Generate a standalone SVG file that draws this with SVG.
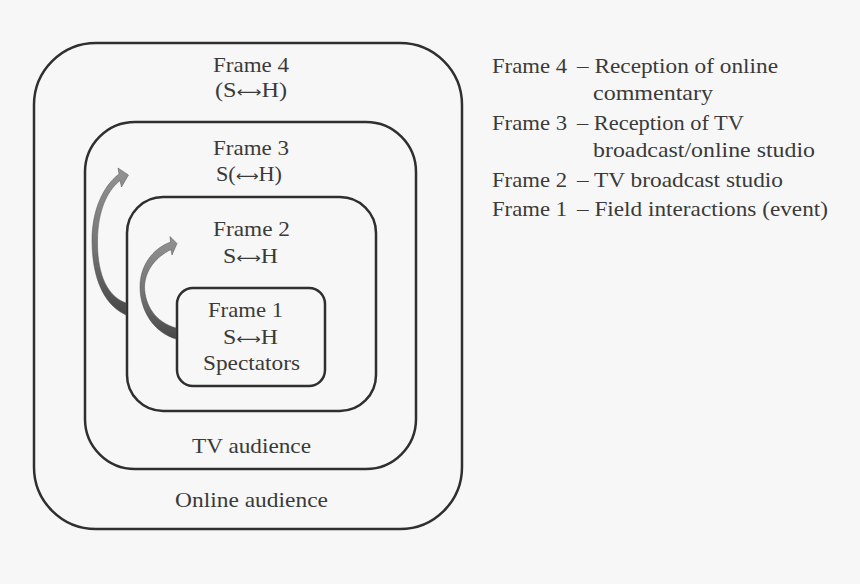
<svg xmlns="http://www.w3.org/2000/svg" width="860" height="584" viewBox="0 0 860 584">
  <style>
    .box { fill: none; stroke: #2f2f2f; stroke-width: 2.5; }
    .t { font-family: "Liberation Serif", "Times New Roman", serif; font-size: 21px; fill: #3a3a3a; }
    .c { text-anchor: middle; }
    .ar { font-family: "DejaVu Sans", sans-serif; font-size: 15px; }
    .arrow { fill: url(#ag); stroke: #505050; stroke-width: 0.5; }
  </style>
  <defs>
    <linearGradient id="ag" x1="0" y1="1" x2="0" y2="0">
      <stop offset="0" stop-color="#474747"/>
      <stop offset="0.45" stop-color="#747474"/>
      <stop offset="1" stop-color="#939393"/>
    </linearGradient>
  </defs>
  <rect width="860" height="584" fill="#f7f7f7"/>

  <g id="frame4">
    <rect class="box" x="34" y="43" width="428" height="486" rx="62" ry="62"/>
    <text class="t c" x="251" y="72" textLength="76" lengthAdjust="spacingAndGlyphs">Frame 4</text>
    <text class="t c" x="251" y="97" textLength="72" lengthAdjust="spacingAndGlyphs">(S<tspan class="ar">⟷</tspan>H)</text>
    <text class="t c" x="251.5" y="507" textLength="153" lengthAdjust="spacingAndGlyphs">Online audience</text>
  </g>

  <g id="frame3">
    <rect class="box" x="85" y="122" width="331" height="347" rx="50" ry="50"/>
    <text class="t c" x="251" y="155" textLength="76" lengthAdjust="spacingAndGlyphs">Frame 3</text>
    <text class="t c" x="249" y="181" textLength="66" lengthAdjust="spacingAndGlyphs">S(<tspan class="ar">⟷</tspan>H)</text>
    <text class="t c" x="251.5" y="453" textLength="119" lengthAdjust="spacingAndGlyphs">TV audience</text>
  </g>

  <g id="frame2">
    <rect class="box" x="127" y="197" width="249" height="214" rx="36" ry="36"/>
    <text class="t c" x="251.5" y="236" textLength="77" lengthAdjust="spacingAndGlyphs">Frame 2</text>
    <text class="t c" x="250.5" y="263" textLength="55" lengthAdjust="spacingAndGlyphs">S<tspan class="ar">⟷</tspan>H</text>
  </g>

  <g id="frame1">
    <rect class="box" x="177" y="288" width="148" height="98" rx="16" ry="16"/>
    <text class="t c" x="245.5" y="317" textLength="75" lengthAdjust="spacingAndGlyphs">Frame 1</text>
    <text class="t c" x="250.5" y="344" textLength="55" lengthAdjust="spacingAndGlyphs">S<tspan class="ar">⟷</tspan>H</text>
    <text class="t c" x="251.5" y="370" textLength="97" lengthAdjust="spacingAndGlyphs">Spectators</text>
  </g>

  <g id="connectors">
    <path class="arrow" d="M126,303 C104,295 97,268 97.5,240 C98,212 106,192 120,180.5 L121.5,187 L128.5,175 L118,168 L119,174 C102,187 92,212 92,240 C92,275 102,304 126,315 Z"/>
    <path class="arrow" d="M176,328 C155,322 145,305 144.5,287 C145,270 156,257 171,249.5 L172,255 L177,243.5 L170,236.5 L170.5,242 C152,249 140,266 140,287 C140,312 155,333 176,339 Z"/>
  </g>

  <g id="legend">
    <text class="t" x="492" y="73" textLength="75" lengthAdjust="spacingAndGlyphs">Frame 4</text>
    <text class="t" x="577" y="73" textLength="201" lengthAdjust="spacingAndGlyphs">– Reception of online</text>
    <text class="t" x="593" y="100" textLength="120" lengthAdjust="spacingAndGlyphs">commentary</text>
    <text class="t" x="492" y="130" textLength="75" lengthAdjust="spacingAndGlyphs">Frame 3</text>
    <text class="t" x="577" y="130" textLength="167" lengthAdjust="spacingAndGlyphs">– Reception of TV</text>
    <text class="t" x="593" y="157" textLength="222" lengthAdjust="spacingAndGlyphs">broadcast/online studio</text>
    <text class="t" x="492" y="187" textLength="75" lengthAdjust="spacingAndGlyphs">Frame 2</text>
    <text class="t" x="577" y="187" textLength="206" lengthAdjust="spacingAndGlyphs">– TV broadcast studio</text>
    <text class="t" x="492" y="216" textLength="75" lengthAdjust="spacingAndGlyphs">Frame 1</text>
    <text class="t" x="577" y="216" textLength="251" lengthAdjust="spacingAndGlyphs">– Field interactions (event)</text>
  </g>
</svg>
